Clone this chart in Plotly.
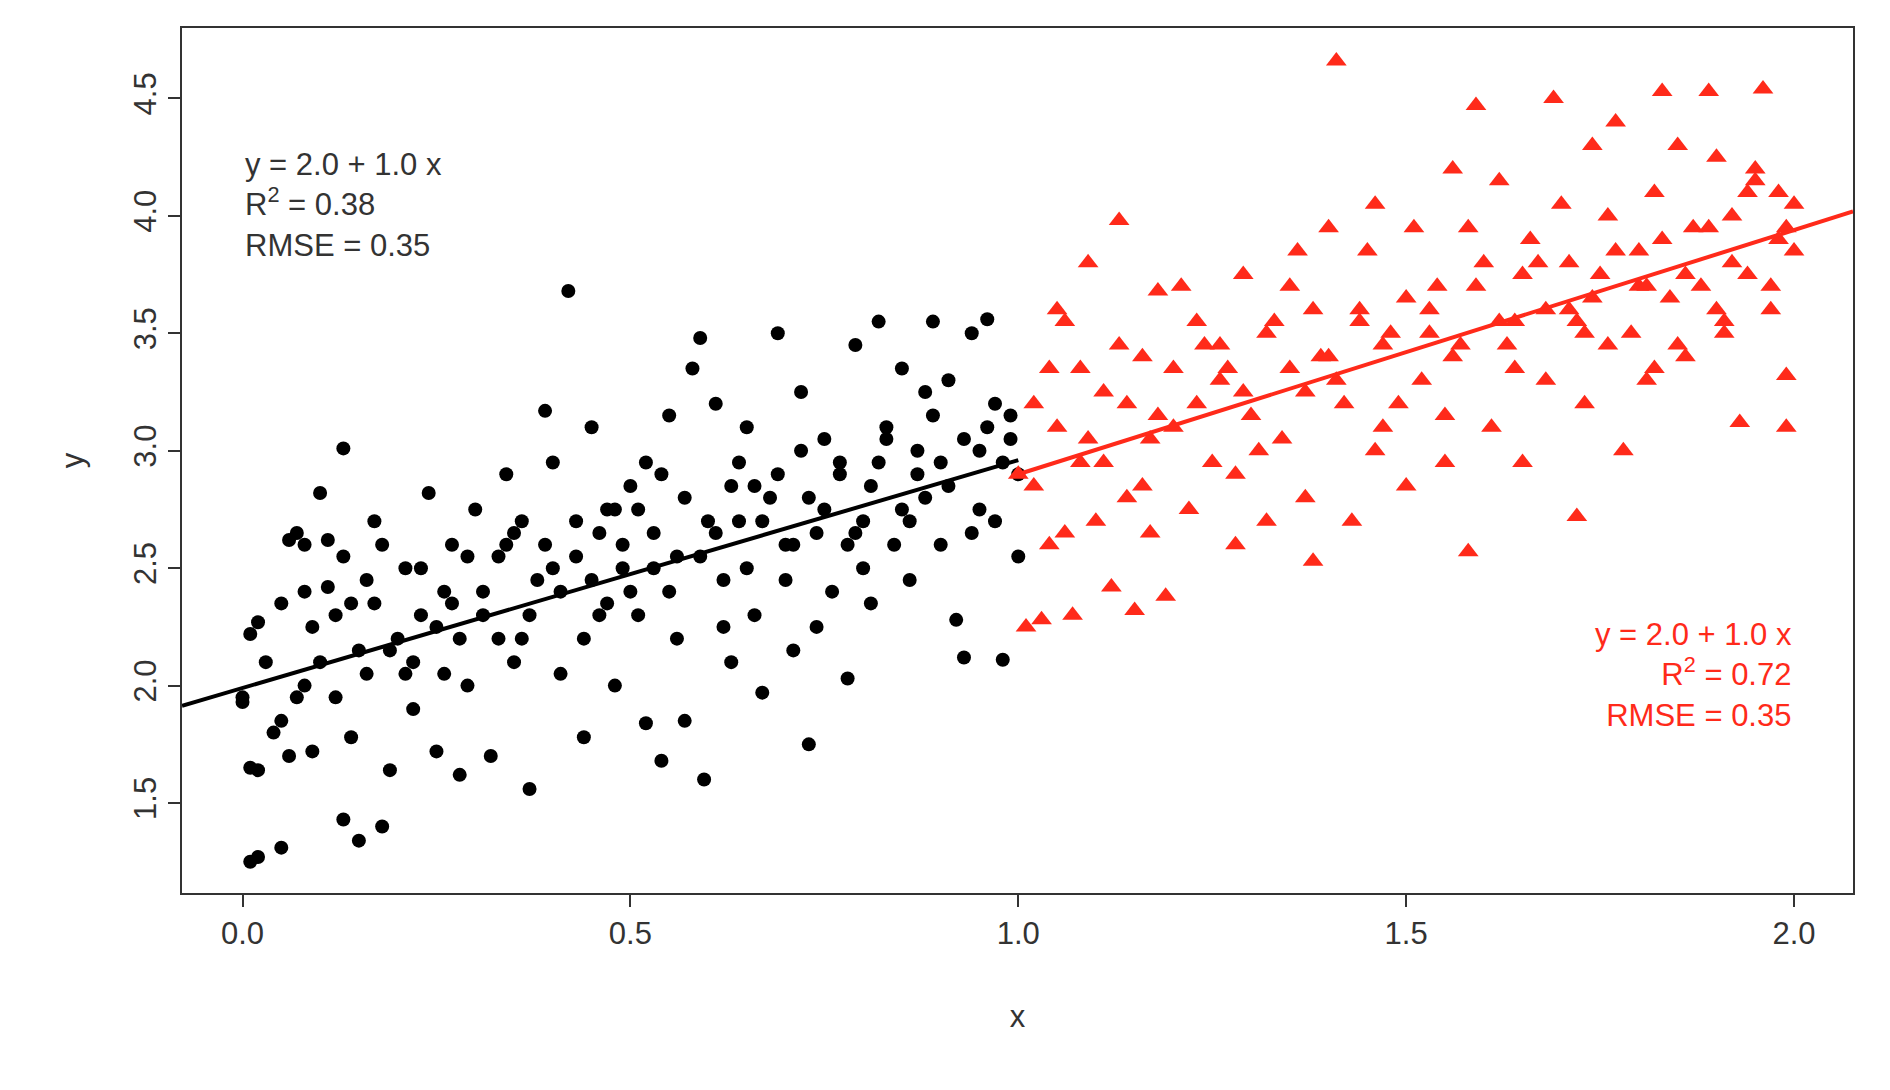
import plotly.graph_objects as go

# black group (x in 0..1)
black_x = [0.0, 0.0, 0.01, 0.02, 0.05, 0.01, 0.02, 0.01, 0.02, 0.05, 0.06, 0.07, 0.08, 0.06, 0.07, 0.08, 0.09, 0.10,
           0.11, 0.11, 0.12, 0.13, 0.13, 0.15, 0.14, 0.15, 0.16, 0.17, 0.18, 0.18, 0.19, 0.20, 0.21, 0.22, 0.23, 0.24,
           0.25, 0.26, 0.27, 0.28, 0.29, 0.30, 0.31, 0.32, 0.33, 0.34, 0.35, 0.36, 0.37, 0.38, 0.39, 0.40, 0.41, 0.42,
           0.43, 0.44, 0.45, 0.46, 0.47, 0.48, 0.49, 0.50, 0.51, 0.52, 0.53, 0.54, 0.55, 0.56, 0.57, 0.58, 0.59, 0.595,
           0.60, 0.61, 0.62, 0.63, 0.64, 0.65, 0.66, 0.67, 0.68, 0.69, 0.70, 0.71, 0.72, 0.73, 0.74, 0.75, 0.76, 0.77,
           0.78, 0.79, 0.80, 0.81, 0.82, 0.83, 0.84, 0.85, 0.86, 0.87, 0.88, 0.89, 0.90, 0.91, 0.92, 0.93, 0.94, 0.95,
           0.96, 0.97, 0.98, 0.99, 1.0, 1.0,
           0.03, 0.04, 0.09, 0.12, 0.14, 0.16, 0.19, 0.21, 0.23, 0.25, 0.27, 0.29, 0.31, 0.33, 0.35, 0.37, 0.39, 0.41,
           0.43, 0.45, 0.47, 0.49, 0.51, 0.53, 0.55, 0.57, 0.59, 0.61, 0.63, 0.65, 0.67, 0.69, 0.71, 0.73, 0.75, 0.77,
           0.79, 0.81, 0.83, 0.85, 0.87, 0.89, 0.91, 0.93, 0.95, 0.97, 0.99,
           0.05, 0.10, 0.17, 0.22, 0.28, 0.34, 0.40, 0.44, 0.48, 0.52, 0.56, 0.62, 0.66, 0.70, 0.74, 0.78, 0.82, 0.86,
           0.90, 0.94, 0.98, 0.08, 0.13, 0.26, 0.36, 0.46, 0.50, 0.54, 0.64, 0.72, 0.80, 0.88, 0.96]
black_y = [1.93, 1.95, 1.25, 1.27, 1.31, 1.65, 1.64, 2.22, 2.27, 2.35, 2.62, 2.65, 2.60, 1.70, 1.95, 2.00, 1.72, 2.82,
           2.62, 2.42, 2.30, 3.01, 1.43, 1.34, 1.78, 2.15, 2.05, 2.70, 1.40, 2.60, 1.64, 2.20, 2.50, 2.10, 2.30, 2.82,
           1.72, 2.40, 2.60, 1.62, 2.00, 2.75, 2.30, 1.70, 2.55, 2.90, 2.10, 2.70, 1.56, 2.45, 3.17, 2.95, 2.05, 3.68,
           2.55, 1.78, 3.10, 2.30, 2.75, 2.00, 2.50, 2.85, 2.30, 1.84, 2.65, 1.68, 3.15, 2.20, 1.85, 3.35, 3.48, 1.60,
           2.70, 3.20, 2.45, 2.10, 2.95, 3.10, 2.30, 1.97, 2.80, 3.50, 2.60, 2.15, 3.25, 1.75, 2.65, 3.05, 2.40, 2.90,
           2.03, 3.45, 2.70, 2.35, 3.55, 3.10, 2.60, 3.35, 2.45, 3.00, 2.80, 3.55, 2.60, 3.30, 2.28, 2.12, 3.50, 3.00,
           3.56, 2.70, 2.11, 3.15, 2.90, 2.55,
           2.10, 1.80, 2.25, 1.95, 2.35, 2.45, 2.15, 2.05, 2.50, 2.25, 2.35, 2.55, 2.40, 2.20, 2.65, 2.30, 2.60, 2.40,
           2.70, 2.45, 2.35, 2.60, 2.75, 2.50, 2.40, 2.80, 2.55, 2.65, 2.85, 2.50, 2.70, 2.90, 2.60, 2.80, 2.75, 2.95,
           2.65, 2.85, 3.05, 2.75, 2.90, 3.15, 2.85, 3.05, 2.75, 3.20, 3.05,
           1.85, 2.10, 2.35, 1.90, 2.20, 2.60, 2.50, 2.20, 2.75, 2.95, 2.55, 2.25, 2.85, 2.45, 2.25, 2.60, 2.95, 2.70,
           2.95, 2.65, 2.95, 2.40, 2.55, 2.05, 2.20, 2.65, 2.40, 2.90, 2.70, 3.00, 2.50, 3.25, 3.10]

# red group (x in 1..2)
red_x = [1.01, 1.03, 1.07, 1.12, 1.15, 1.19, 1.13, 1.09, 1.05, 1.18, 1.41, 1.58, 1.72, 1.78, 1.83, 1.89, 1.96, 1.69,
         1.59, 1.38, 1.93, 1.99, 1.99, 1.00, 1.02, 1.04, 1.06, 1.08, 1.10, 1.11, 1.14, 1.16, 1.17, 1.20, 1.21, 1.22,
         1.24, 1.25, 1.26, 1.28, 1.29, 1.30, 1.32, 1.33, 1.34, 1.36, 1.37, 1.39, 1.40, 1.42, 1.43, 1.44, 1.46, 1.47,
         1.48, 1.50, 1.51, 1.52, 1.54, 1.55, 1.56, 1.57, 1.60, 1.61, 1.62, 1.64, 1.65, 1.66, 1.68, 1.70, 1.71, 1.73,
         1.74, 1.75, 1.76, 1.77, 1.79, 1.80, 1.81, 1.82, 1.84, 1.85, 1.86, 1.87, 1.88, 1.90, 1.91, 1.92, 1.94, 1.95,
         1.97, 1.98, 2.00, 2.00,
         1.02, 1.05, 1.08, 1.11, 1.14, 1.17, 1.20, 1.23, 1.26, 1.29, 1.32, 1.35, 1.38, 1.41, 1.44, 1.47, 1.50, 1.53,
         1.56, 1.59, 1.62, 1.65, 1.68, 1.71, 1.74, 1.77, 1.80, 1.83, 1.86, 1.89, 1.92, 1.95, 1.98,
         1.04, 1.09, 1.13, 1.18, 1.23, 1.27, 1.31, 1.35, 1.40, 1.45, 1.49, 1.53, 1.58, 1.63, 1.67, 1.72, 1.76, 1.81,
         1.85, 1.90, 1.94, 1.97, 1.06, 1.16, 1.28, 1.37, 1.46, 1.55, 1.64, 1.73, 1.82, 1.91, 1.99]
red_y = [2.25, 2.28, 2.30, 2.42, 2.32, 2.38, 3.98, 3.80, 3.60, 3.68, 4.66, 2.57, 2.72, 3.00, 4.53, 4.53, 4.54, 4.50,
         4.47, 2.53, 3.12, 3.10, 3.32, 2.90, 3.20, 2.60, 3.55, 2.95, 2.70, 3.25, 2.80, 3.40, 2.65, 3.10, 3.70, 2.75,
         3.45, 2.95, 3.30, 2.60, 3.75, 3.15, 2.70, 3.55, 3.05, 3.85, 2.80, 3.40, 3.95, 3.20, 2.70, 3.60, 4.05, 3.10,
         3.50, 2.85, 3.95, 3.30, 3.70, 2.95, 4.20, 3.45, 3.80, 3.10, 4.15, 3.55, 2.95, 3.90, 3.30, 4.05, 3.60, 3.20,
         4.30, 3.75, 3.45, 4.40, 3.50, 3.85, 3.30, 4.10, 3.65, 4.30, 3.40, 3.95, 3.70, 4.25, 3.55, 4.00, 3.75, 4.20,
         3.60, 4.10, 3.85, 4.05,
         2.85, 3.10, 3.35, 2.95, 3.20, 3.05, 3.35, 3.20, 3.45, 3.25, 3.50, 3.35, 3.60, 3.30, 3.55, 3.45, 3.65, 3.50,
         3.40, 3.70, 3.55, 3.75, 3.60, 3.80, 3.65, 3.85, 3.70, 3.90, 3.75, 3.95, 3.80, 4.15, 3.90,
         3.35, 3.05, 3.45, 3.15, 3.55, 3.35, 3.00, 3.70, 3.40, 3.85, 3.20, 3.60, 3.95, 3.45, 3.80, 3.55, 4.00, 3.70,
         3.45, 3.60, 4.10, 3.70, 2.65, 2.85, 2.90, 3.25, 3.00, 3.15, 3.35, 3.50, 3.35, 3.50, 3.95]

# fitted lines (intercept, slope) as drawn
black_fit = (1.99, 0.97)
red_fit = (1.86, 1.04)

x_lo, x_hi = -0.078, 2.076
black_line_x = [x_lo, 1.0]
red_line_x = [1.0, x_hi]

grey = "#333333"
font = dict(family="Liberation Sans, Arial, sans-serif", size=31, color=grey)

fig = go.Figure()
fig.add_trace(go.Scatter(x=black_x, y=black_y, mode="markers",
                         marker=dict(symbol="circle", size=14, color="black")))
fig.add_trace(go.Scatter(x=red_x, y=red_y, mode="markers",
                         marker=dict(symbol="triangle-up", size=18, color="#ff2a1a")))
fig.add_trace(go.Scatter(x=black_line_x, y=[black_fit[0] + black_fit[1] * v for v in black_line_x],
                         mode="lines", line=dict(color="black", width=4)))
fig.add_trace(go.Scatter(x=red_line_x, y=[red_fit[0] + red_fit[1] * v for v in red_line_x],
                         mode="lines", line=dict(color="#ff2a1a", width=4)))

fig.add_annotation(x=0.0, y=4.30, xref="x", yref="y", xanchor="left", yanchor="top", align="left",
                   showarrow=False, font=font,
                   text="y = 2.0 + 1.0 x<br>R<sup>2</sup> = 0.38<br>RMSE = 0.35")
fig.add_annotation(x=2.0, y=2.30, xref="x", yref="y", xanchor="right", yanchor="top", align="right",
                   showarrow=False, font=dict(font, color="#ff2a1a"),
                   text="y = 2.0 + 1.0 x<br>R<sup>2</sup> = 0.72<br>RMSE = 0.35")

axis_common = dict(showgrid=False, zeroline=False, showline=True, mirror=True, linecolor=grey, linewidth=1.5,
                   ticks="outside", ticklen=12, tickwidth=1.5, tickcolor=grey, tickfont=font)
fig.update_layout(
    width=1890, height=1090, plot_bgcolor="white", paper_bgcolor="white", showlegend=False,
    margin=dict(l=174, r=45, t=20, b=205),
    xaxis=dict(axis_common, range=[x_lo, x_hi], tickvals=[0.0, 0.5, 1.0, 1.5, 2.0], ticktext=["0.0", "0.5", "1.0", "1.5", "2.0"],
               title=dict(text="x", font=font, standoff=55)),
    yaxis=dict(axis_common, range=[1.117, 4.80], tickvals=[1.5, 2.0, 2.5, 3.0, 3.5, 4.0, 4.5], tickangle=-90,
               ticktext=["1.5", "2.0", "2.5", "3.0", "3.5", "4.0", "4.5"],
               title=dict(text="y", font=font, standoff=35)),
)
fig.write_html("out.html")
